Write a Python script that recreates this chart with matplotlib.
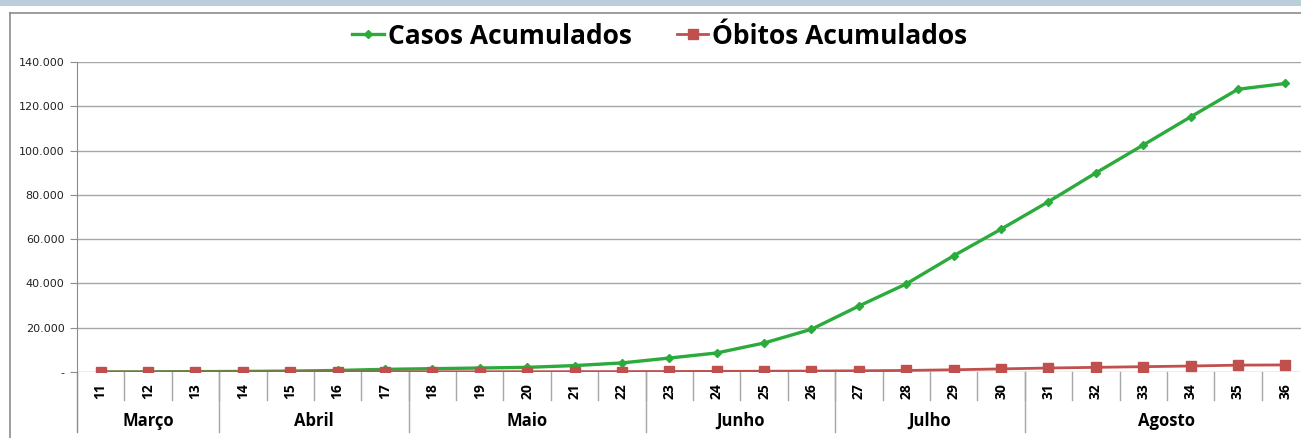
import matplotlib
matplotlib.use('Agg')
import matplotlib.pyplot as plt
from matplotlib.lines import Line2D
from matplotlib.patches import Rectangle

# semanas epidemiologicas
semanas = ['11', '12', '13', '14', '15', '16', '17', '18', '19', '20', '21', '22', '23',
           '24', '25', '26', '27', '28', '29', '30', '31', '32', '33', '34', '35', '36']
meses = ['Março', 'Abril', 'Maio', 'Junho', 'Julho', 'Agosto']
semanas_por_mes = [3, 4, 5, 4, 4, 6]

casos = [0, 50, 150, 250, 400, 700, 1200, 1500, 1800, 2100, 2900, 4100, 6300,
         8600, 13100, 19300, 29800, 39800, 52500, 64500, 76900, 89900, 102500,
         115200, 127700, 130300]
obitos = [0, 0, 10, 20, 30, 50, 70, 90, 110, 130, 160, 190, 230,
          280, 350, 430, 550, 700, 1000, 1400, 1800, 2100, 2400, 2700, 3100, 3200]

W, H = 1301, 438
fig = plt.figure(figsize=(W / 100, H / 100), dpi=100)

# bordas / faixa do topo
fig.add_artist(Rectangle((0, 1 - 6 / H), 1, 6 / H, transform=fig.transFigure,
                         color='#b9cdda', lw=0))
fig.add_artist(Line2D([10 / W, 1], [1 - 13 / H, 1 - 13 / H], transform=fig.transFigure,
                      color='#8c8c8c', lw=1.2))
fig.add_artist(Line2D([10 / W, 10 / W], [0, 1 - 13 / H], transform=fig.transFigure,
                      color='#8c8c8c', lw=1.2))

left, right = 77 / W, 1.0
bottom, top = (H - 372) / H, (H - 62) / H
ax = fig.add_axes([left, bottom, right - left, top - bottom])

x = list(range(len(semanas)))
ax.plot(x, casos, color='#2aab3c', lw=2.4, marker='D', ms=4, label='Casos Acumulados',
        zorder=4)
ax.plot(x, obitos, color='#c0504d', lw=2, marker='s', ms=7, label='Óbitos Acumulados',
        zorder=5)

ax.set_xlim(-0.5, 25.33)
ax.set_ylim(0, 140000)
yt = list(range(0, 140001, 20000))
ax.set_yticks(yt)
ax.set_yticklabels(['-' if v == 0 else f'{v:,}'.replace(',', '.') for v in yt],
                   fontsize=8, color='#222222')
ax.tick_params(axis='y', length=5, color='#8c8c8c', pad=4)
ax.set_xticks([])
ax.grid(axis='y', color='#a6a6a6', lw=1)
ax.set_axisbelow(True)
for s in ['top', 'right', 'bottom']:
    ax.spines[s].set_visible(False)
ax.spines['left'].set_color('#8c8c8c')

# eixo de categorias em dois niveis
tr = ax.get_xaxis_transform()
y_sem = -28 / 310
y_mes = -60 / 310
ax.plot([-0.5, -0.5], [0, y_mes], transform=tr, color='#8c8c8c', lw=1, clip_on=False)
for i, s in enumerate(semanas):
    ax.text(i, -19 / 310, s, transform=tr, rotation=90, ha='center', va='center',
            fontsize=10, fontweight='bold', family='Open Sans')
    if i < len(semanas) - 1:
        ax.plot([i + 0.5, i + 0.5], [0, y_sem], transform=tr, color='#a6a6a6', lw=1,
                clip_on=False)
pos = 0
for m, n in zip(meses, semanas_por_mes):
    ax.text(pos - 0.5 + n / 2, -49 / 310, m, transform=tr, ha='center', va='center',
            fontsize=12, fontweight='bold', family='Open Sans')
    pos += n
    if pos < len(semanas):
        ax.plot([pos - 0.5, pos - 0.5], [0, y_mes], transform=tr, color='#a6a6a6', lw=1,
                clip_on=False)

fig.legend(loc='center', bbox_to_anchor=(660 / W, 1 - 36 / H), ncol=2, frameon=False,
           prop={'family': 'Open Sans', 'weight': 'bold', 'size': 19}, handlelength=1.2,
           handletextpad=0.15, columnspacing=1.7)

fig.savefig('out.png', dpi=100)
